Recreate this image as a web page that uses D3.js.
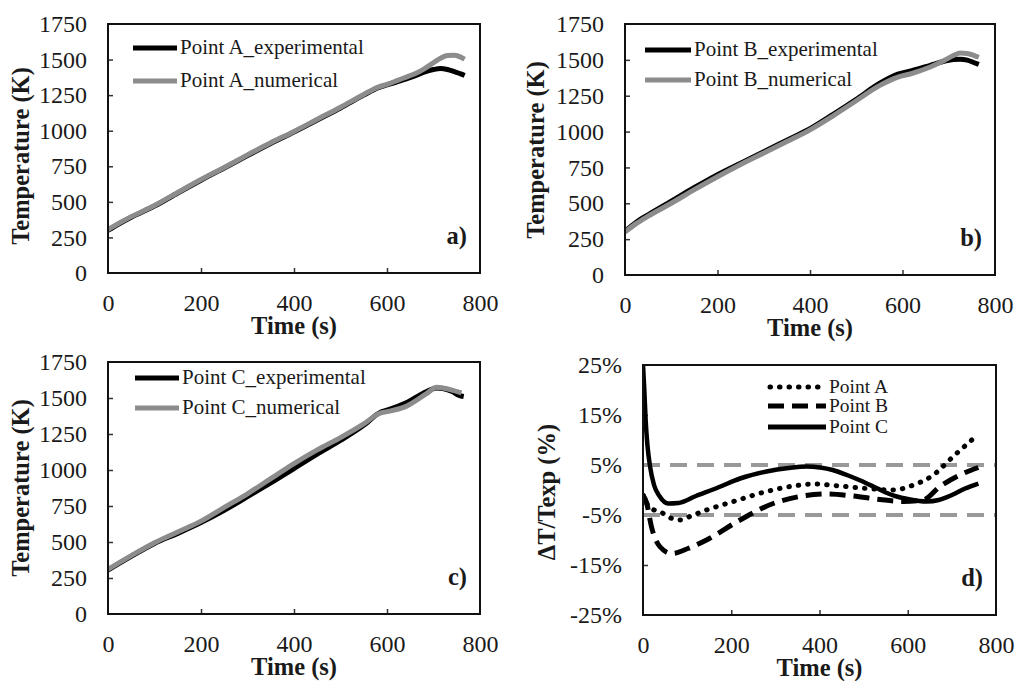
<!DOCTYPE html>
<html>
<head>
<meta charset="utf-8">
<script src="https://cdn.jsdelivr.net/npm/d3@7"></script>
<style>
  html, body { margin: 0; padding: 0; background: #fff; }
  svg { display: block; }
</style>
</head>
<body>
<svg id="chart" width="1015" height="681"></svg>
<script>
// ---- Data ---------------------------------------------------------------
const timeTicks = [0, 200, 400, 600, 800];
const tempTicks = [0, 250, 500, 750, 1000, 1250, 1500, 1750];
const devTicks = [25, 15, 5, -5, -15, -25];
const toleranceBand = [5, -5];

// Point A temperature (K) vs time (s)
const timeAexp = [0, 25, 50, 100, 150, 200, 250, 300, 350, 400, 450, 500, 550, 580, 600, 620, 640, 660, 680, 700, 715, 730, 745, 760, 767];
const tempAexp = [300, 348, 392, 470, 562, 652, 738, 825, 910, 990, 1075, 1160, 1250, 1300, 1322, 1342, 1362, 1385, 1412, 1430, 1437, 1430, 1415, 1398, 1388];
const timeAnum = [0, 25, 50, 100, 150, 200, 250, 300, 350, 400, 450, 500, 550, 580, 600, 620, 640, 660, 680, 700, 715, 730, 745, 760, 767];
const tempAnum = [305, 352, 396, 474, 566, 657, 742, 830, 915, 995, 1080, 1165, 1255, 1305, 1326, 1350, 1375, 1400, 1435, 1478, 1510, 1528, 1530, 1515, 1503];

// Point B
const timeBexp = [0, 25, 50, 100, 150, 200, 250, 300, 350, 400, 450, 500, 550, 590, 620, 660, 690, 710, 725, 740, 755, 765];
const tempBexp = [305, 370, 420, 515, 610, 700, 780, 860, 940, 1020, 1120, 1225, 1335, 1400, 1425, 1462, 1490, 1503, 1505, 1498, 1480, 1468];
const timeBnum = [0, 25, 50, 100, 150, 200, 250, 300, 350, 400, 450, 500, 550, 590, 620, 660, 690, 710, 725, 740, 755, 765];
const tempBnum = [300, 360, 410, 500, 595, 685, 770, 850, 930, 1012, 1110, 1215, 1320, 1380, 1405, 1450, 1495, 1530, 1548, 1545, 1530, 1518];

// Point C
const timeCexp = [0, 50, 100, 150, 200, 250, 300, 350, 400, 450, 500, 550, 585, 600, 640, 685, 707, 720, 740, 755, 765];
const tempCexp = [305, 400, 490, 560, 635, 720, 815, 910, 1010, 1110, 1205, 1310, 1400, 1415, 1465, 1545, 1570, 1565, 1545, 1518, 1510];
const timeCnum = [0, 50, 100, 150, 200, 250, 300, 350, 400, 450, 500, 550, 585, 600, 640, 685, 707, 720, 740, 760];
const tempCnum = [310, 405, 495, 570, 645, 740, 835, 940, 1045, 1140, 1225, 1320, 1395, 1405, 1440, 1530, 1575, 1570, 1555, 1535];

// Relative deviation ΔT/Texp (%)
const timeDevA = [0, 15, 42, 60, 84, 106, 144, 205, 280, 341, 386, 446, 507, 567, 613, 658, 703, 745];
const devA = [-1, -3.5, -4.5, -5.5, -6, -5.3, -4, -2.3, -0.3, 0.8, 1.2, 0.8, 0.3, 0, 1, 3, 6.7, 10];
const timeDevB = [0, 8, 19, 38, 65, 102, 144, 220, 295, 356, 416, 477, 537, 590, 635, 673, 718, 760];
const devB = [-1, -2.5, -7.3, -11.3, -12.7, -11.7, -10, -6, -2.7, -1.3, -0.8, -1.2, -1.9, -2.3, -2, 0.7, 3, 4.5];
const timeDevC = [0, 3, 6, 10, 16, 25, 38, 57, 80, 120, 170, 220, 280, 330, 371, 401, 430, 462, 490, 522, 550, 575, 600, 643, 670, 700, 730, 760];
const devC = [25, 20, 14, 9, 4.7, 1, -1.3, -2.7, -2.6, -1.2, 0.5, 2.3, 3.7, 4.4, 4.7, 4.5, 4, 3, 2, 0.7, -0.5, -1.3, -1.8, -2.3, -2, -1, 0.3, 1.3];

// ---- Styles -------------------------------------------------------------
const SERIF = '"Liberation Serif", serif';
const FONT_TICK = 24, FONT_TITLE = 24.5, FONT_LEGEND = 21, FONT_LEGEND_SMALL = 19.5;
const BLACK = "#000", GRAY = "#8c8c8c", TEXT = "#1a1a1a";

const svg = d3.select("#chart");
const zip = (xs, ys) => xs.map((x, i) => [x, ys[i]]);

function addText(g) {
  return g.append("text").attr("font-family", SERIF).attr("fill", TEXT);
}

function panel(cfg) {
  const g = svg.append("g");
  const x = d3.scaleLinear().domain([0, 800]).range([cfg.x0, cfg.x1]);
  const y = d3.scaleLinear().domain(cfg.yDomain).range([cfg.y1, cfg.y0]);

  const clipId = "clip-" + cfg.id;
  svg.append("clipPath").attr("id", clipId).append("rect")
    .attr("x", cfg.x0).attr("y", cfg.y0)
    .attr("width", cfg.x1 - cfg.x0).attr("height", cfg.y1 - cfg.y0);

  // axes with inward ticks
  const xAxis = d3.axisBottom(x).tickValues(timeTicks).tickSizeInner(-5).tickSizeOuter(0).tickPadding(21);
  const gx = g.append("g").attr("transform", `translate(0,${cfg.y1})`).call(xAxis);
  const yAxis = d3.axisLeft(y).tickValues(cfg.yTicks).tickSizeInner(-5).tickSizeOuter(0).tickPadding(21)
    .tickFormat(cfg.yFormat || (d => d));
  const gy = g.append("g").attr("transform", `translate(${cfg.x0},0)`).call(yAxis);
  [gx, gy].forEach(a => {
    a.attr("font-family", SERIF).attr("font-size", FONT_TICK);
    a.select(".domain").remove();
    a.selectAll(".tick line").attr("stroke", "#333").attr("stroke-width", 1.5);
    a.selectAll(".tick text").attr("fill", TEXT);
  });
  gx.selectAll(".tick").filter(d => d === 0 || d === 800).select("line").remove();
  gy.selectAll(".tick").filter((d, i, n) => i === 0 || i === n.length - 1).select("line").remove();

  const plot = g.append("g").attr("clip-path", `url(#${clipId})`);
  const line = d3.line().x(d => x(d[0])).y(d => y(d[1])).curve(d3.curveMonotoneX);

  cfg.draw(plot, line, x, y);

  // frame
  g.append("rect").attr("x", cfg.x0).attr("y", cfg.y0)
    .attr("width", cfg.x1 - cfg.x0).attr("height", cfg.y1 - cfg.y0)
    .attr("fill", "none").attr("stroke", "#111").attr("stroke-width", 2);

  // axis titles
  addText(g).attr("x", (cfg.x0 + cfg.x1) / 2).attr("y", cfg.y1 + 61)
    .attr("text-anchor", "middle").attr("font-weight", "bold")
    .attr("font-size", FONT_TITLE).text("Time (s)");
  addText(g)
    .attr("transform", `translate(${cfg.yTitleX},${cfg.yTitleY}) rotate(-90)`)
    .attr("text-anchor", "middle").attr("font-weight", "bold")
    .attr("font-size", FONT_TITLE).text(cfg.yTitle);

  // panel tag
  addText(g).attr("x", cfg.x1 - 13).attr("y", cfg.y1 - 29)
    .attr("text-anchor", "end").attr("font-weight", "bold")
    .attr("font-size", FONT_TITLE).text(cfg.tag);

  // legend
  cfg.legend.forEach(item => {
    g.append("line").attr("x1", item.x1).attr("x2", item.x2)
      .attr("y1", item.y).attr("y2", item.y)
      .attr("stroke", item.color).attr("stroke-width", 5)
      .attr("stroke-dasharray", item.dash || null)
      .attr("stroke-linecap", item.cap || "butt");
    addText(g).attr("x", item.x2 + 3).attr("y", item.y + 6)
      .attr("font-size", cfg.legendFont || FONT_LEGEND).text(item.label);
  });
}

function tempPanel(id, box, tag, label, tExp, vExp, tNum, vNum, legendBox, titlePos) {
  panel({
    id, tag, ...box,
    yDomain: [0, 1750], yTicks: tempTicks,
    yTitle: "Temperature (K)", yTitleX: titlePos[0], yTitleY: titlePos[1],
    draw: (plot, line) => {
      plot.append("path").datum(zip(tExp, vExp)).attr("d", line)
        .attr("fill", "none").attr("stroke", BLACK).attr("stroke-width", 5);
      plot.append("path").datum(zip(tNum, vNum)).attr("d", line)
        .attr("fill", "none").attr("stroke", GRAY).attr("stroke-width", 5);
    },
    legend: [
      { x1: legendBox.x1, x2: legendBox.x2, y: legendBox.y1, color: BLACK, label: `Point ${label}_experimental` },
      { x1: legendBox.x1, x2: legendBox.x2, y: legendBox.y2, color: GRAY, label: `Point ${label}_numerical` }
    ]
  });
}

tempPanel("a", { x0: 108, x1: 480, y0: 24, y1: 273 }, "a)", "A",
  timeAexp, tempAexp, timeAnum, tempAnum, { x1: 133, x2: 177, y1: 48, y2: 81 }, [29, 156]);
tempPanel("b", { x0: 625, x1: 995, y0: 24, y1: 275 }, "b)", "B",
  timeBexp, tempBexp, timeBnum, tempBnum, { x1: 645, x2: 691, y1: 50, y2: 80 }, [544, 150]);
tempPanel("c", { x0: 108, x1: 480, y0: 362, y1: 614 }, "c)", "C",
  timeCexp, tempCexp, timeCnum, tempCnum, { x1: 135, x2: 179, y1: 378, y2: 408 }, [29, 488]);

panel({
  id: "d", tag: "d)", x0: 643, x1: 996, y0: 365, y1: 615,
  yDomain: [-25, 25], yTicks: devTicks, yFormat: d => d + "%",
  yTitle: "ΔT/Texp (%)", yTitleX: 555, yTitleY: 492,
  legendFont: FONT_LEGEND_SMALL,
  draw: (plot, line, x, y) => {
    plot.selectAll("line.band").data(toleranceBand).enter().append("line")
      .attr("x1", x(0)).attr("x2", x(800))
      .attr("y1", d => y(d)).attr("y2", d => y(d))
      .attr("stroke", "#999").attr("stroke-width", 4).attr("stroke-dasharray", "17,10");
    plot.append("path").datum(zip(timeDevA, devA)).attr("d", line)
      .attr("fill", "none").attr("stroke", BLACK).attr("stroke-width", 5)
      .attr("stroke-dasharray", "0.5,9").attr("stroke-linecap", "round");
    plot.append("path").datum(zip(timeDevB, devB)).attr("d", line)
      .attr("fill", "none").attr("stroke", BLACK).attr("stroke-width", 5)
      .attr("stroke-dasharray", "16,8");
    plot.append("path").datum(zip(timeDevC, devC)).attr("d", line)
      .attr("fill", "none").attr("stroke", BLACK).attr("stroke-width", 4.5);
  },
  legend: [
    { x1: 770, x2: 826, y: 387, color: BLACK, label: "Point A", dash: "0.5,9", cap: "round" },
    { x1: 768, x2: 826, y: 406, color: BLACK, label: "Point B", dash: "16,8" },
    { x1: 768, x2: 826, y: 427, color: BLACK, label: "Point C" }
  ]
});
</script>
</body>
</html>
